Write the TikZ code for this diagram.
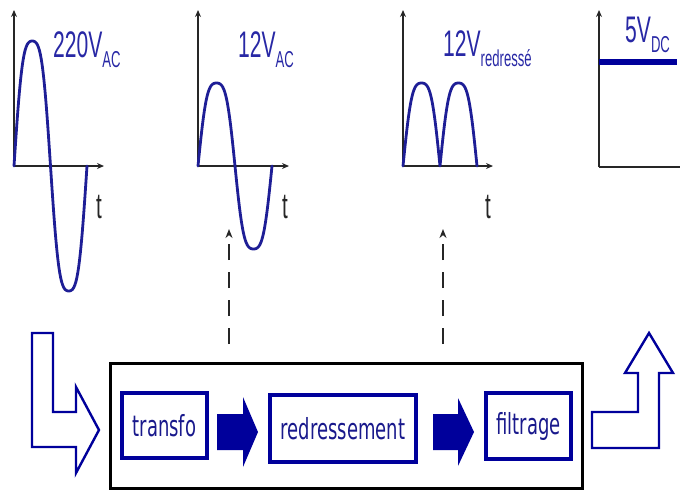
\documentclass[tikz,border=0pt]{standalone}
\usepackage{fontspec}
\newfontfamily\lblfont[FakeStretch=0.57]{Liberation Sans}
\newfontfamily\boxfont[FakeStretch=0.62]{DejaVu Sans}
\usetikzlibrary{arrows.meta}
\definecolor{wblue}{RGB}{30,30,150}
\definecolor{bblue}{RGB}{0,0,155}
\definecolor{tblue}{RGB}{25,25,140}
\definecolor{lblue}{RGB}{40,40,165}
\tikzset{
  axis/.style={line width=1.6pt,black!85,-{Stealth[length=7pt,width=6pt]}},
  wave/.style={line width=2.8pt,wblue,line join=round,line cap=round},
  lbl/.style={anchor=base west,inner sep=0pt,text=lblue,font=\lblfont\fontsize{37}{37}\selectfont},
  tlbl/.style={inner sep=0pt,text=black!85,font=\lblfont\fontsize{36}{36}\selectfont},
  blockbox/.style={draw=bblue,line width=3.5pt,inner sep=0pt,text=tblue,font=\boxfont\fontsize{29}{29}\selectfont},
  hollow/.style={draw=bblue,line width=2.4pt,line join=miter,fill=white},
  solidarr/.style={fill=bblue,draw=none},
  dasharr/.style={line width=1.6pt,black!85,dash pattern=on 16pt off 12pt,-{Stealth[length=9pt,width=7pt]}}
}
\newcommand{\sbs}[1]{\raisebox{-10pt}{\fontsize{23}{23}\selectfont #1}}
\begin{document}
\begin{tikzpicture}[x=1pt,y=-1pt,declare function={rs(\t)=sin(\t)*(1.4-0.4*sin(\t)*sin(\t));}]
\useasboundingbox (0,0) rectangle (680,491);
% graph 1
\coordinate (o1) at (14,166);
\draw[axis] (o1) -- (14,10);
\draw[axis] (o1) -- (104,166);
\draw[wave] plot[domain=0:360,samples=73,smooth] ({14+\x/360*73},{166-125*rs(\x)});
\node[lbl] (l1) at (53,57) {220V\sbs{AC}};
\node[tlbl] (t1) at (99,207) {t};
% graph 2
\coordinate (o2) at (198,166);
\draw[axis] (o2) -- (198,10);
\draw[axis] (o2) -- (289,166);
\draw[wave] plot[domain=0:360,samples=73,smooth] ({198+\x/360*74},{166-83*rs(\x)});
\node[lbl] (l2) at (238,57) {12V\sbs{AC}};
\node[tlbl] (t2) at (285,207) {t};
% graph 3
\coordinate (o3) at (403,166);
\draw[axis] (o3) -- (403,10);
\draw[axis] (o3) -- (493,166);
\draw[wave] plot[domain=0:360,samples=145] ({403+\x/360*74},{166-83*abs(rs(\x))});
\node[lbl] (l3) at (443,56) {12V\sbs{redressé}};
\node[tlbl] (t3) at (488,207) {t};
% graph 4
\coordinate (o4) at (599,167);
\draw[axis] (o4) -- (599,10);
\draw[line width=1.6pt,black!85] (o4) -- (681,167);
\draw[line width=6pt,bblue] (599,62) -- (677,62);
\node[lbl] (l4) at (625,42) {5V\sbs{DC}};
% dashed arrows
\coordinate (d1s) at (229,344);
\coordinate (d1e) at (229,229);
\coordinate (d2s) at (443,344);
\coordinate (d2e) at (443,229);
\draw[dasharr] (d1s) -- (d1e);
\draw[dasharr] (d2s) -- (d2e);
% outer frame
\node[draw=black,line width=3pt,minimum width=472pt,minimum height=125pt,inner sep=0pt] (frame) at (346,425.5) {};
% blocks
\node[blockbox,minimum width=85pt,minimum height=65pt] (transfo) at (164.5,425.5) {transfo};
\node[blockbox,minimum width=146pt,minimum height=67pt] (redr) at (343,428.5) {redressement};
\node[blockbox,minimum width=85pt,minimum height=66pt] (filt) at (528.5,426) {filtrage};
% solid arrows
\fill[solidarr] (217,414) -- (243,414) -- (243,397) -- (258,432) -- (243,467) -- (243,450) -- (217,450) -- cycle;
\fill[solidarr] (433,414) -- (458,414) -- (458,398) -- (474,432) -- (458,466) -- (458,450) -- (433,450) -- cycle;
% hollow arrows
\draw[hollow] (32,333) -- (53,333) -- (53,412) -- (76,412) -- (76,387) -- (99,430) -- (76,473) -- (76,447) -- (32,447) -- cycle;
\draw[hollow] (592,412) -- (638,412) -- (638,373) -- (625,373) -- (649,333) -- (673,373) -- (659,373) -- (659,448) -- (592,448) -- cycle;
\end{tikzpicture}
\end{document}
